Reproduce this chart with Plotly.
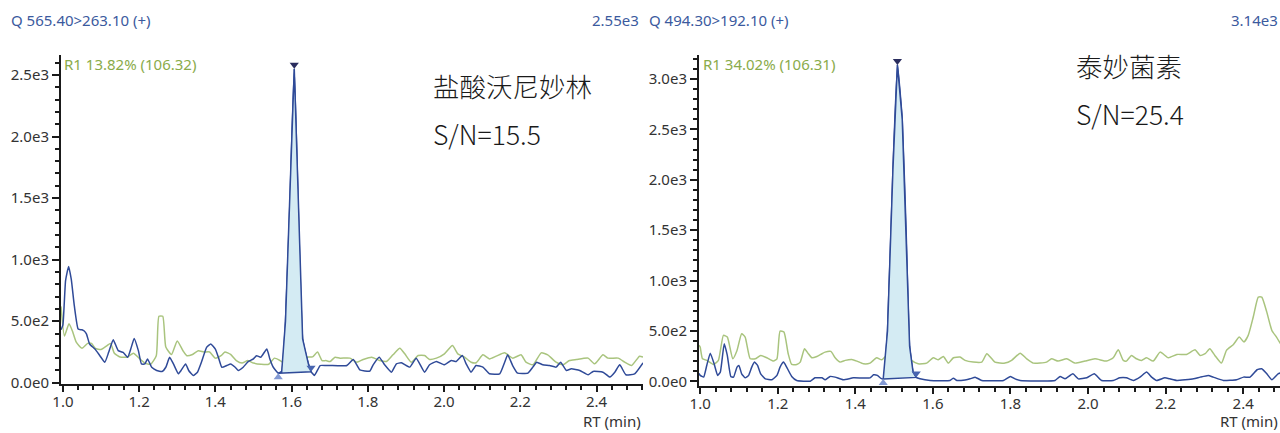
import plotly.graph_objects as go

# ---------------- data: left panel (Q 565.40>263.10) ----------------
left_blue_t = [0.995, 1.0, 1.007, 1.015, 1.022, 1.03, 1.04, 1.05, 1.056, 1.062, 1.07, 1.084, 1.097, 1.11, 1.12,
               1.132, 1.145, 1.158, 1.17, 1.178, 1.187, 1.198, 1.206, 1.215, 1.222, 1.233, 1.246, 1.26, 1.27,
               1.28, 1.29, 1.303, 1.31, 1.322, 1.33, 1.342, 1.353, 1.364, 1.377, 1.388, 1.4, 1.408, 1.417,
               1.43, 1.44, 1.452, 1.46, 1.473, 1.486, 1.5, 1.508, 1.519, 1.535, 1.543, 1.552, 1.565, 1.574,
               1.584, 1.596, 1.607, 1.629, 1.644, 1.651, 1.66, 1.675, 1.69, 1.701, 1.745, 1.762, 1.779,
               1.805, 1.814, 1.83, 1.844, 1.862, 1.875, 1.888, 1.91, 1.927, 1.949, 1.962, 1.98, 2.001,
               2.019, 2.032, 2.048, 2.058, 2.071, 2.084, 2.102, 2.119, 2.146, 2.159, 2.167, 2.18, 2.193,
               2.22, 2.233, 2.243, 2.259, 2.277, 2.294, 2.306, 2.321, 2.334, 2.356, 2.378, 2.391, 2.417,
               2.435, 2.448, 2.461, 2.477, 2.5, 2.522]
left_blue_v = [430, 470, 830, 945, 840, 624, 436, 430, 420, 395, 315, 274, 220, 167, 247,
               350, 261, 247, 207, 274, 360, 261, 153, 153, 194, 126, 100, 91, 126,
               207, 153, 73, 100, 153, 100, 59, 86, 172, 288, 315, 274, 207, 126,
               140, 153, 126, 100, 126, 172, 194, 220, 207, 274, 194, 126, 78, 89,
               500, 1500, 2550, 356, 154, 90, 60, 140, 140, 140, 140, 189, 105,
               94, 146, 208, 146, 86, 154, 162, 127, 200, 86, 146, 173, 146,
               181, 173, 221, 154, 86, 140, 127, 73, 73, 167, 227, 140, 78,
               78, 127, 167, 146, 140, 127, 167, 100, 113, 100, 65, 92, 86,
               46, 86, 146, 65, 73, 162]
left_green_t = [0.995, 1.004, 1.016, 1.025, 1.035, 1.05, 1.065, 1.075, 1.085, 1.1, 1.115, 1.125, 1.135, 1.15,
                1.17, 1.185, 1.2, 1.215, 1.23, 1.245, 1.252, 1.262, 1.27, 1.285, 1.3, 1.315, 1.325, 1.34,
                1.355, 1.37, 1.385, 1.4, 1.415, 1.425, 1.44, 1.455, 1.47, 1.485, 1.5, 1.52, 1.54, 1.555,
                1.57, 1.58, 1.6, 1.625, 1.645, 1.655, 1.668, 1.68, 1.69, 1.701, 1.714, 1.727, 1.753, 1.771,
                1.788, 1.81, 1.831, 1.849, 1.866, 1.884, 1.897, 1.914, 1.932, 1.949, 1.962, 1.98, 2.001,
                2.022, 2.036, 2.054, 2.071, 2.084, 2.102, 2.119, 2.137, 2.159, 2.18, 2.202, 2.215, 2.233,
                2.255, 2.272, 2.294, 2.312, 2.329, 2.347, 2.378, 2.395, 2.417, 2.43, 2.457, 2.474, 2.492,
                2.513, 2.522]
left_green_v = [620, 380, 480, 420, 330, 280, 320, 320, 280, 270, 300, 320, 240, 210,
                210, 240, 200, 160, 150, 220, 540, 540, 290, 230, 340, 260, 220, 230,
                260, 250, 250, 200, 220, 250, 230, 180, 160, 180, 160, 150, 150, 200,
                180, 160, 190, 200, 210, 210, 250, 180, 180, 173, 208, 200, 200, 167,
                189, 208, 181, 173, 227, 281, 235, 167, 221, 221, 189, 200, 235,
                302, 235, 208, 167, 162, 227, 194, 216, 243, 200, 227, 167, 146,
                243, 227, 167, 146, 181, 189, 200, 154, 227, 200, 200, 167, 140,
                216, 208]
left_peak_start, left_peak_apex, left_peak_end = 1.565, 1.607, 1.651

# ---------------- data: right panel (Q 494.30>192.10) ----------------
right_blue_t = [0.997, 1.0, 1.009, 1.017, 1.026, 1.036, 1.045, 1.052, 1.062, 1.07, 1.079, 1.086, 1.095, 1.1,
                1.107, 1.116, 1.125, 1.133, 1.14, 1.148, 1.156, 1.168, 1.185, 1.198, 1.206, 1.215, 1.223,
                1.236, 1.249, 1.284, 1.296, 1.314, 1.322, 1.335, 1.348, 1.369, 1.395, 1.438, 1.447, 1.457,
                1.466, 1.472, 1.483, 1.497, 1.5086, 1.521, 1.531, 1.54, 1.549, 1.557, 1.567, 1.593, 1.644,
                1.653, 1.662, 1.683, 1.696, 1.709, 1.726, 1.782, 1.8, 1.812, 1.825, 1.915, 1.928, 1.941,
                1.961, 1.975, 1.997, 2.016, 2.035, 2.065, 2.082, 2.099, 2.117, 2.134, 2.151, 2.164, 2.177,
                2.198, 2.211, 2.229, 2.272, 2.289, 2.31, 2.323, 2.349, 2.383, 2.401, 2.418, 2.436, 2.448,
                2.461, 2.474, 2.49, 2.497]
right_blue_v = [80, 60, 43, 159, 281, 175, 60, 93, 374, 258, 50, 43, 142, 159,
                76, 36, 60, 142, 192, 159, 76, 26, 17, 60, 142, 192, 142,
                50, 10, 3, 36, 36, 17, 50, 43, 17, 36, 36, 66, 60,
                30, 25, 500, 2100, 3140, 2600, 1500, 350, 92, 40, 26, 10, 10,
                33, 10, 15, 26, 43, 10, 10, 50, 26, 10, 10, 50, 26,
                76, 26, 36, 76, 10, 10, 36, 36, 10, 43, 93, 43, 10,
                36, 26, 10, 26, 43, 60, 43, 10, 17, 43, 43, 116, 126,
                76, 17, 76, 85]
right_green_t = [0.997, 1.0, 1.006, 1.017, 1.034, 1.047, 1.06, 1.07, 1.084, 1.095, 1.107, 1.116, 1.129, 1.142,
                 1.156, 1.172, 1.189, 1.198, 1.206, 1.216, 1.227, 1.236, 1.249, 1.258, 1.269, 1.279, 1.288,
                 1.301, 1.314, 1.322, 1.337, 1.348, 1.361, 1.374, 1.391, 1.404, 1.421, 1.438, 1.455, 1.468,
                 1.481, 1.5, 1.52, 1.533, 1.545, 1.562, 1.584, 1.601, 1.614, 1.627, 1.64, 1.653, 1.67,
                 1.683, 1.704, 1.726, 1.739, 1.752, 1.76, 1.786, 1.803, 1.825, 1.842, 1.859, 1.893, 1.906,
                 1.923, 1.945, 1.966, 1.992, 2.018, 2.048, 2.065, 2.078, 2.091, 2.099, 2.112, 2.125, 2.138,
                 2.151, 2.168, 2.186, 2.207, 2.229, 2.254, 2.276, 2.289, 2.302, 2.314, 2.327, 2.344, 2.357,
                 2.375, 2.39, 2.402, 2.413, 2.426, 2.439, 2.448, 2.461, 2.474, 2.486, 2.497]
right_green_v = [360, 341, 225, 209, 169, 209, 457, 440, 225, 308, 473, 440, 225, 225,
                 258, 235, 202, 225, 500, 490, 275, 169, 169, 192, 324, 275, 235,
                 248, 275, 291, 298, 235, 192, 209, 218, 202, 175, 182, 235, 215,
                 258, 240, 250, 258, 209, 175, 182, 235, 215, 248, 182, 235, 242,
                 209, 192, 192, 275, 225, 192, 182, 209, 281, 225, 182, 192, 225,
                 202, 225, 182, 202, 225, 202, 235, 314, 209, 202, 258, 225, 209,
                 235, 202, 291, 235, 268, 268, 314, 258, 275, 324, 258, 182, 308,
                 367, 440, 391, 457, 639, 837, 837, 688, 506, 440, 370]
right_peak_start, right_peak_apex, right_peak_end = 1.472, 1.5086, 1.557

# axes ticks
x_tickvals = [1.0, 1.2, 1.4, 1.6, 1.8, 2.0, 2.2, 2.4]
y_tickvals_left = [0, 500, 1000, 1500, 2000, 2500]
y_ticktext_left = ["0.0e0", "5.0e2", "1.0e3", "1.5e3", "2.0e3", "2.5e3"]
y_tickvals_right = [0, 500, 1000, 1500, 2000, 2500, 3000]
y_ticktext_right = ["0.0e0", "5.0e2", "1.0e3", "1.5e3", "2.0e3", "2.5e3", "3.0e3"]

titles = ["Q 565.40>263.10 (+)", "Q 494.30>192.10 (+)"]
ratios = ["R1 13.82% (106.32)", "R1 34.02% (106.31)"]
names = ["盐酸沃尼妙林", "泰妙菌素"]
sn = ["S/N=15.5", "S/N=25.4"]

BLUE = "#2f4a98"
GREEN = "#a9c47e"
FILL = "#d4ebf3"
W, H = 1280, 433


def sci(v):
    s = f"{v:.2e}"
    m, e = s.split("e")
    return f"{m}e{int(e)}"


fig = go.Figure()


def add_panel(bt, bv, gt, gv, p0, pa, p1, xa, ya):
    fig.add_trace(go.Scatter(x=gt, y=gv, mode="lines",
                             line=dict(color=GREEN, width=1.5, shape="spline", smoothing=0.5),
                             xaxis=xa, yaxis=ya, hoverinfo="skip"))
    fig.add_trace(go.Scatter(x=bt, y=bv, mode="lines",
                             line=dict(color=BLUE, width=1.5, shape="spline", smoothing=0.4),
                             xaxis=xa, yaxis=ya, hoverinfo="skip"))
    px = [t for t in bt if p0 <= t <= p1]
    py = [v for t, v in zip(bt, bv) if p0 <= t <= p1]
    fig.add_trace(go.Scatter(x=px + [px[0]], y=py + [py[0]], mode="lines", fill="toself",
                             fillcolor=FILL, line=dict(color=BLUE, width=1.5),
                             xaxis=xa, yaxis=ya, hoverinfo="skip"))
    ia = bt.index(pa)
    fig.add_trace(go.Scatter(x=[px[0]], y=[py[0]], mode="markers",
                             marker=dict(symbol="triangle-up", size=8, color="#8299d3",
                                         standoff=4, angle=0),
                             xaxis=xa, yaxis=ya, hoverinfo="skip"))
    fig.add_trace(go.Scatter(x=[px[-1]], y=[py[-1]], mode="markers",
                             marker=dict(symbol="triangle-up", size=8, color="#4865b0",
                                         standoff=4, angle=180),
                             xaxis=xa, yaxis=ya, hoverinfo="skip"))
    fig.add_trace(go.Scatter(x=[bt[ia]], y=[bv[ia]], mode="markers",
                             marker=dict(symbol="triangle-up", size=8, color="#2a2d5e",
                                         standoff=4, angle=180),
                             xaxis=xa, yaxis=ya, hoverinfo="skip"))
    return bv[ia]


apex_l = add_panel(left_blue_t, left_blue_v, left_green_t, left_green_v,
                   left_peak_start, left_peak_apex, left_peak_end, "x", "y")
apex_r = add_panel(right_blue_t, right_blue_v, right_green_t, right_green_v,
                   right_peak_start, right_peak_apex, right_peak_end, "x2", "y2")

TICKFONT = dict(family="Noto Sans", size=15, color="#333333")


def xaxis(dom, rng):
    return dict(domain=dom, range=rng, tickmode="array", tickvals=x_tickvals, tickformat=".1f",
                showline=True, linecolor="#1a1a1a", linewidth=2, ticks="outside", ticklen=6,
                tickwidth=1.5, tickcolor="#1a1a1a", showgrid=False, zeroline=False,
                tickfont=TICKFONT, fixedrange=True, automargin=False, ticklabelstandoff=-3,
                minor=dict(tickmode="linear", tick0=1.0, dtick=0.04, ticks="outside", ticklen=4,
                           tickwidth=1.5, tickcolor="#1a1a1a", showgrid=False))


def yaxis(dom, rng, tv, tt, anchor):
    return dict(domain=dom, range=rng, anchor=anchor, tickmode="array", tickvals=tv, ticktext=tt,
                showline=True, linecolor="#1a1a1a", linewidth=2, ticks="outside", ticklen=7,
                tickwidth=1.5, tickcolor="#1a1a1a", showgrid=False, zeroline=False,
                tickfont=TICKFONT, fixedrange=True, automargin=False,
                minor=dict(tickmode="linear", tick0=0, dtick=100, ticks="outside", ticklen=4,
                           tickwidth=1.5, tickcolor="#1a1a1a", showgrid=False))


top = 1 - 55 / H
fig.update_layout(
    width=W, height=H, margin=dict(l=0, r=0, t=0, b=0, autoexpand=False), showlegend=False,
    paper_bgcolor="white", plot_bgcolor="white",
    xaxis=dict(xaxis([61 / W, 643 / W], [0.995, 2.522]), anchor="y"),
    yaxis=yaxis([1 - 384 / H, top], [-10, 2662], y_tickvals_left, y_ticktext_left, "x"),
    xaxis2=dict(xaxis([699 / W, 1.0], [0.997, 2.495]), anchor="y2"),
    yaxis2=yaxis([1 - 386 / H, top], [-45, 3238], y_tickvals_right, y_ticktext_right, "x2"),
)

ann = []


def txt(x, y, s, size, color, xanchor="left", family="Noto Sans", weight=None, yanchor="middle"):
    f = dict(family=family, size=size, color=color)
    if weight:
        f["weight"] = weight
    ann.append(dict(x=x / W, y=1 - y / H, xref="paper", yref="paper", text=s, showarrow=False,
                    xanchor=xanchor, yanchor=yanchor, font=f))


TCOL = "#3b5a9e"
txt(9, 20, titles[0], 15, TCOL)
txt(641, 20, sci(apex_l), 15, TCOL, "right")
txt(647, 20, titles[1], 15, TCOL)
txt(1280, 20, sci(apex_r), 15, TCOL, "right")
txt(62, 64, ratios[0], 15, "#8aab4a")
txt(701, 64, ratios[1], 15, "#8aab4a")
txt(643, 433, "RT (min)", 15, "#333333", "right", yanchor="bottom")
txt(1280, 433, "RT (min)", 15, "#333333", "right", yanchor="bottom")
CJK = "Noto Sans CJK SC"
txt(431, 86, names[0], 26.5, "#1a1a1a", family=CJK, weight=300)
txt(431, 133, sn[0], 26.5, "#1a1a1a", family=CJK, weight=300)
txt(1074, 65, names[1], 26.5, "#1a1a1a", family=CJK, weight=300)
txt(1074, 113, sn[1], 26.5, "#1a1a1a", family=CJK, weight=300)
fig.update_layout(annotations=ann)

fig.write_html("out.html", config={"displayModeBar": False},
               post_script="document.body.style.margin='0';")
